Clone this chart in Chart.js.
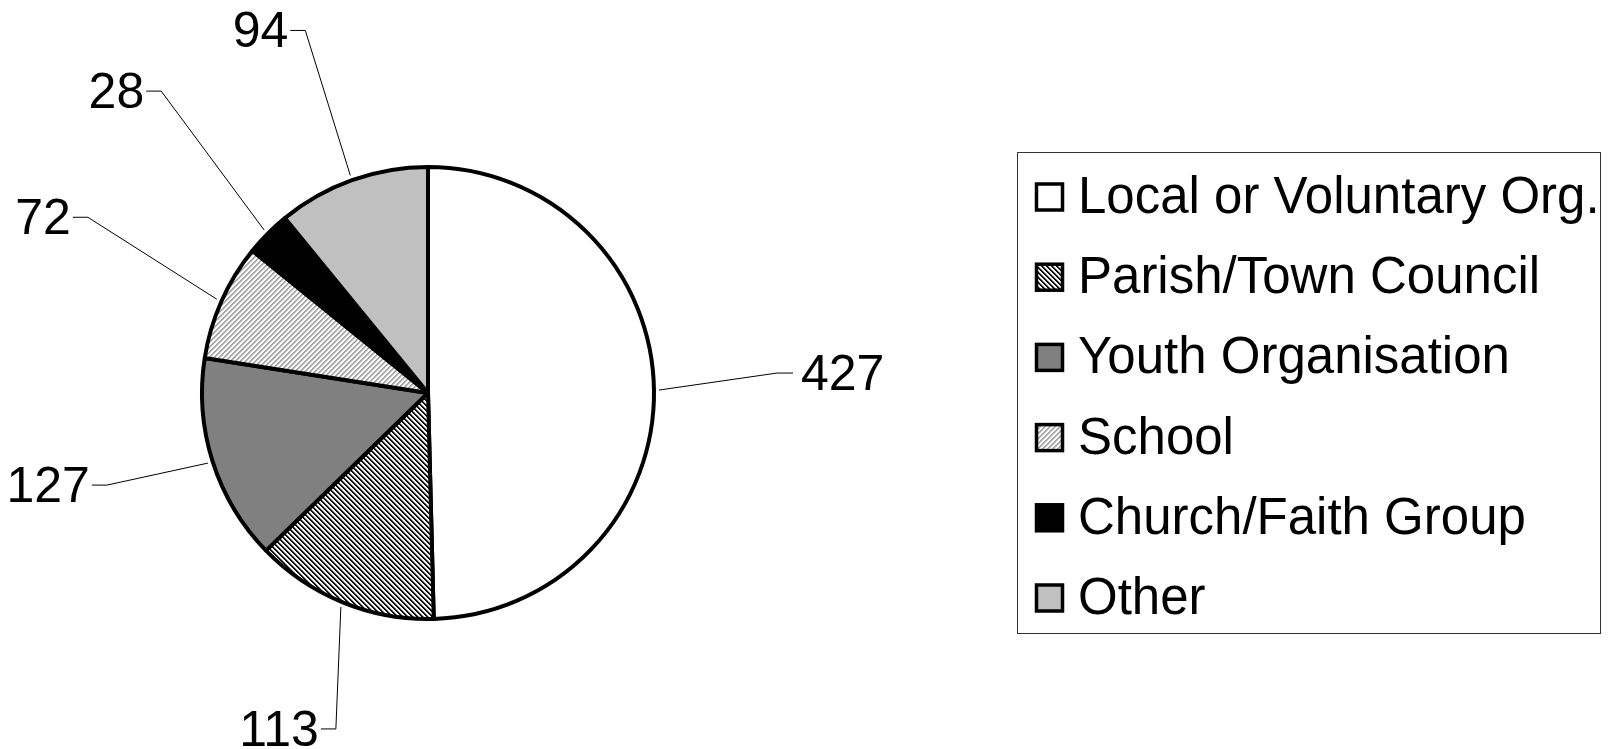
<!DOCTYPE html>
<html>
<head>
<meta charset="utf-8">
<script src="https://cdn.jsdelivr.net/npm/chart.js@4/dist/chart.umd.min.js"></script>
<style>
  html, body { margin: 0; padding: 0; background: #ffffff; }
  #wrap { width: 1608px; height: 749px; }
</style>
</head>
<body>
<div id="wrap"><canvas id="c" width="1608" height="749"></canvas></div>
<script>
// ---- data ----
const categories = ['Local or Voluntary Org.', 'Parish/Town Council', 'Youth Organisation', 'School', 'Church/Faith Group', 'Other'];
const values = [427, 113, 127, 72, 28, 94];
const valueLabels = ['427', '113', '127', '72', '28', '94'];

// ---- label layout (elbow offset from the slice's outer edge) ----
const labelOffsets = [[118, -17], [-5, 122], [-101, 22], [-129, -82], [-103, -139], [-45, -145]];

const FONT = '"Liberation Sans", Arial, Helvetica, sans-serif';
const canvas = document.getElementById('c');
const ctx = canvas.getContext('2d');

function stripePattern(dir, dark, mid) {
  const n = 5;
  const t = document.createElement('canvas');
  t.width = n; t.height = n;
  const g = t.getContext('2d');
  g.fillStyle = '#ffffff';
  g.fillRect(0, 0, n, n);
  for (let y = 0; y < n; y++) {
    for (let x = 0; x < n; x++) {
      const k = ((dir === 'back' ? (x - y) : (x + y)) % n + n) % n;
      if (k === 0 || k === 1) { g.fillStyle = dark; g.fillRect(x, y, 1, 1); }
      else if (k === 2) { g.fillStyle = mid; g.fillRect(x, y, 1, 1); }
    }
  }
  return ctx.createPattern(t, 'repeat');
}

const fills = [
  '#ffffff',
  stripePattern('back', '#111111', '#9a9a9a'),
  '#808080',
  stripePattern('fwd', '#a8a8a8', '#dadada'),
  '#000000',
  '#c0c0c0'
];

const leaderPlugin = {
  id: 'leaders',
  afterDatasetsDraw(chart) {
    const meta = chart.getDatasetMeta(0);
    const c = chart.ctx;
    c.save();
    c.strokeStyle = '#000';
    c.lineWidth = 1;
    c.fillStyle = '#000';
    c.font = '50px ' + FONT;
    c.textBaseline = 'alphabetic';
    meta.data.forEach((arc, i) => {
      const p = arc.getProps(['x', 'y', 'startAngle', 'endAngle', 'outerRadius'], true);
      const mid = (p.startAngle + p.endAngle) / 2;
      const r = p.outerRadius + 5;
      const ax = p.x + Math.cos(mid) * r;
      const ay = p.y + Math.sin(mid) * r;
      const ex = ax + labelOffsets[i][0];
      const ey = ay + labelOffsets[i][1];
      const right = ax >= p.x;
      const tx = right ? ex + 16 : ex - 15;
      c.beginPath();
      c.moveTo(ax, ay);
      c.lineTo(ex, ey);
      c.lineTo(tx, ey);
      c.stroke();
      if (right) {
        c.textAlign = 'left';
        c.fillText(valueLabels[i], tx + 8, ey + 17);
      } else {
        c.textAlign = 'right';
        c.fillText(valueLabels[i], tx - 2, ey + 17);
      }
    });
    c.restore();
  }
};

const legendPlugin = {
  id: 'boxLegend',
  afterDraw(chart) {
    const c = chart.ctx;
    const ds = chart.data.datasets[0];
    c.save();
    // frame
    c.strokeStyle = '#333333';
    c.lineWidth = 1;
    c.strokeRect(1017.5, 152.5, 583, 481);
    c.font = '51px ' + FONT;
    c.textAlign = 'left';
    c.textBaseline = 'alphabetic';
    chart.data.labels.forEach((lab, i) => {
      const cy = 197 + i * 80.2;
      c.fillStyle = ds.backgroundColor[i];
      c.fillRect(1036.5, cy - 13, 26, 26);
      c.strokeStyle = '#000';
      c.lineWidth = 3.5;
      c.strokeRect(1036.5, cy - 13, 26, 26);
      c.fillStyle = '#000';
      c.fillText(lab, 1078, cy + 16);
    });
    c.restore();
  }
};

new Chart(ctx, {
  type: 'pie',
  data: {
    labels: categories,
    datasets: [{
      data: values,
      backgroundColor: fills,
      borderColor: '#000000',
      borderWidth: 4
    }]
  },
  options: {
    responsive: false,
    animation: false,
    devicePixelRatio: 1,
    radius: 226,
    layout: { padding: { left: 150, right: 902, top: 37, bottom: 0 } },
    plugins: {
      legend: { display: false },
      tooltip: { enabled: false },
      title: { display: false }
    },
    events: []
  },
  plugins: [leaderPlugin, legendPlugin]
});
</script>
</body>
</html>
